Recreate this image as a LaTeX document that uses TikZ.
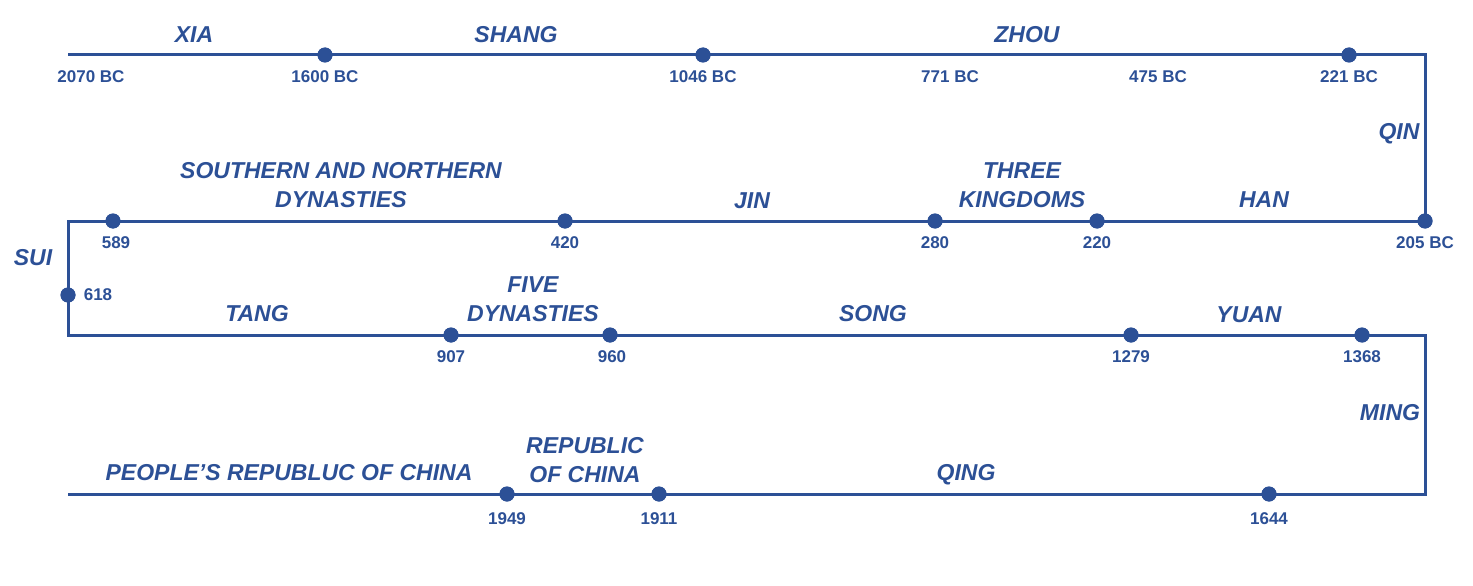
\documentclass[tikz,border=0pt]{standalone}
\usepackage{fontspec}
\setmainfont{Liberation Sans}
\definecolor{tl}{RGB}{44,80,150}
\begin{document}
\begin{tikzpicture}[x=1pt,y=-1pt,
  line/.style={draw=tl,line width=3pt},
  dot/.style={circle,fill=tl,inner sep=0pt,minimum size=15pt},
  year/.style={text=tl,font=\fontsize{17}{19}\selectfont\bfseries,inner sep=0pt},
  era/.style={text=tl,font=\fontsize{23}{29}\selectfont\bfseries\itshape,inner sep=0pt,align=center}]
\useasboundingbox (0,0) rectangle (1473,586);
% row 1
\coordinate (s) at (68,55);
\node[dot] (d1600) at (325,55) {};
\node[dot] (d1046) at (703,55) {};
\node[dot] (d221) at (1349,55) {};
\coordinate (c1) at (1425,55);
% row 2
\node[dot] (d205) at (1425,221) {};
\node[dot] (d220) at (1097,221) {};
\node[dot] (d280) at (935,221) {};
\node[dot] (d420) at (565,221) {};
\node[dot] (d589) at (113,221) {};
\coordinate (c2) at (68,221);
% left side
\node[dot] (d618) at (68,295) {};
% row 3
\coordinate (c3) at (68,335);
\node[dot] (d907) at (451,335) {};
\node[dot] (d960) at (610,335) {};
\node[dot] (d1279) at (1131,335) {};
\node[dot] (d1368) at (1362,335) {};
\coordinate (c4) at (1425,335);
% row 4
\coordinate (c5) at (1425,494);
\node[dot] (d1644) at (1269,494) {};
\node[dot] (d1911) at (659,494) {};
\node[dot] (d1949) at (507,494) {};
\coordinate (e) at (68,494);

% the serpentine time line
\draw[line] (s) -- (d1600.center) -- (d1046.center) -- (d221.center) -- (c1)
  -- (d205.center) -- (d220.center) -- (d280.center) -- (d420.center)
  -- (d589.center) -- (c2) -- (d618.center) -- (c3) -- (d907.center)
  -- (d960.center) -- (d1279.center) -- (d1368.center) -- (c4) -- (c5)
  -- (d1644.center) -- (d1911.center) -- (d1949.center) -- (e);
% dots on top of the line
\foreach \d in {d1600,d1046,d221,d205,d220,d280,d420,d589,d618,d907,d960,d1279,d1368,d1644,d1911,d1949}
  \fill[tl] (\d) circle (7.5pt);

% year labels
\node[year] at (91,77) {2070 BC};
\node[year] at (325,77) {1600 BC};
\node[year] at (703,77) {1046 BC};
\node[year] at (950,77) {771 BC};
\node[year] at (1158,77) {475 BC};
\node[year] at (1349,77) {221 BC};
\node[year] at (116,243) {589};
\node[year] at (565,243) {420};
\node[year] at (935,243) {280};
\node[year] at (1097,243) {220};
\node[year] at (1425,243) {205 BC};
\node[year] at (98,295) {618};
\node[year] at (451,357) {907};
\node[year] at (612,357) {960};
\node[year] at (1131,357) {1279};
\node[year] at (1362,357) {1368};
\node[year] at (507,519) {1949};
\node[year] at (659,519) {1911};
\node[year] at (1269,519) {1644};

% dynasty labels
\node[era] at (194,35) {XIA};
\node[era] at (516,35) {SHANG};
\node[era] at (1027,35) {ZHOU};
\node[era] at (1399,134) {QIN};
\node[era] at (1264,200) {HAN};
\node[era] at (1022,185) {THREE\\KINGDOMS};
\node[era] at (752,201) {JIN};
\node[era] at (341,185) {SOUTHERN AND NORTHERN\\DYNASTIES};
\node[era] at (33,258) {SUI};
\node[era] at (257,314) {TANG};
\node[era] at (533,299) {FIVE\\DYNASTIES};
\node[era] at (873,314) {SONG};
\node[era] at (1249,315) {YUAN};
\node[era] at (1390,413) {MING};
\node[era] at (966,475) {QING};
\node[era] at (585,460) {REPUBLIC\\OF CHINA};
\node[era] at (289,473) {PEOPLE’S REPUBLUC OF CHINA};
\end{tikzpicture}
\end{document}
